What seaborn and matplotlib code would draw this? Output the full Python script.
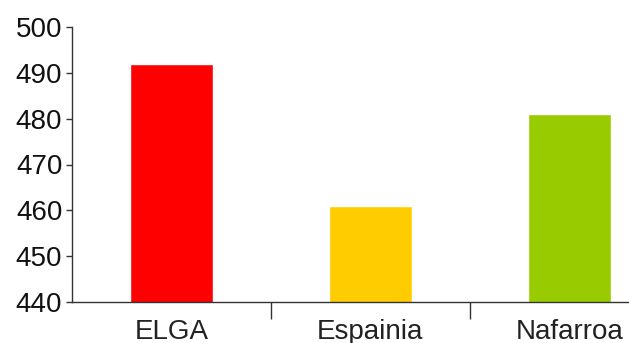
import matplotlib
matplotlib.use("Agg")
import matplotlib.pyplot as plt
import seaborn as sns
import pandas as pd

categories = ["ELGA", "Espainia", "Nafarroa"]
values = [492, 461, 481]
colors = ["#FF0000", "#FFCC00", "#99CC00"]
yticks = [440, 450, 460, 470, 480, 490, 500]

sns.set_style("ticks")
plt.rcParams["font.family"] = ["Liberation Sans", "DejaVu Sans"]

df = pd.DataFrame({"cat": categories, "val": values})

fig = plt.figure(figsize=(6.29, 3.43), dpi=100)
W, H = 629, 343
ax = fig.add_axes([72 / W, 1 - 302 / H, (W - 72) / W, (302 - 27) / H])

sns.barplot(data=df, x="cat", y="val", hue="cat", palette=colors,
            width=0.42, legend=False, ax=ax, saturation=1)

ax.set_ylim(440, 500)
ax.set_xlim(-0.5, 2.30)
ax.set_yticks(yticks)
ax.set_xlabel("")
ax.set_ylabel("")

ax.set_xticks([0, 1, 2])
ax.set_xticklabels(categories)
ax.set_xticks([0.5, 1.5], minor=True)
ax.tick_params(axis="x", which="major", length=0, pad=12, labelsize=20,
               labelcolor="#222222")
ax.tick_params(axis="x", which="minor", length=12, width=1, color="#333333",
               direction="out")
ax.tick_params(axis="y", length=4, width=1, color="#333333", labelsize=20,
               labelcolor="#111111", pad=3)

for s in ["top", "right"]:
    ax.spines[s].set_visible(False)
for s in ["left", "bottom"]:
    ax.spines[s].set_color("#333333")
    ax.spines[s].set_linewidth(1)

fig.savefig("out.png", dpi=100)
